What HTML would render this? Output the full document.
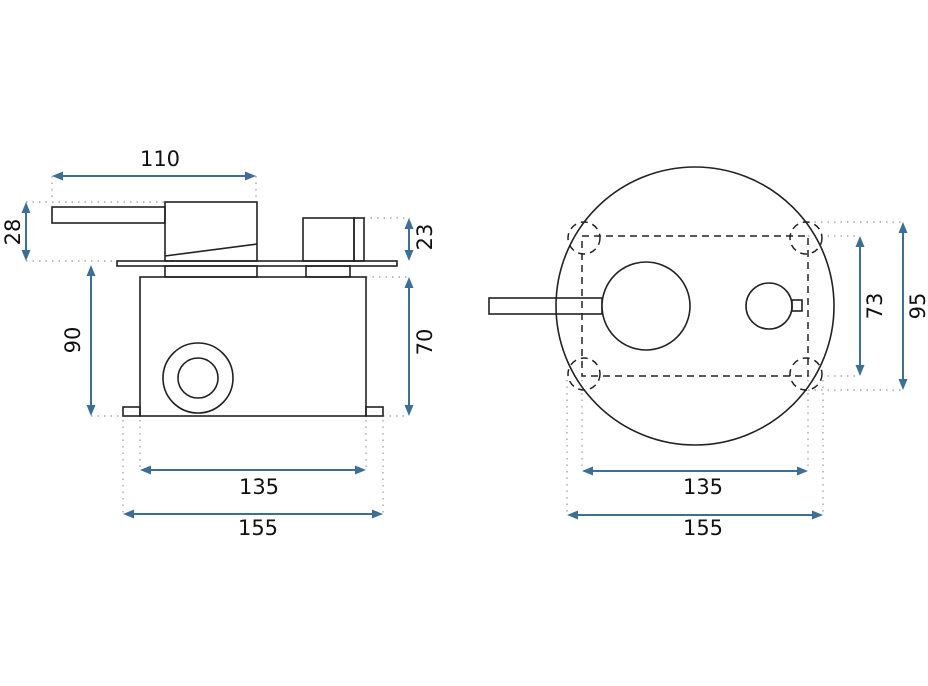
<!DOCTYPE html>
<html><head><style>body{margin:0;background:#fff}svg{display:block}text{font-family:"DejaVu Sans","Liberation Sans",sans-serif;font-size:21px;fill:#111}</style></head>
<body>
<svg width="928" height="686" viewBox="0 0 928 686" xmlns="http://www.w3.org/2000/svg">
<g stroke="#999" stroke-width="1.2" stroke-dasharray="1.5,5" fill="none">
<path d="M52,176V202M256,176V200M26,202H165M26,261H117M364,218H410M366,277H410M91,416H123M383,416H409M123,420V515M140,420V470M366,420V470M383,420V515"/>
<path d="M808,222H903M808,236H860M808,376H860M808,390H903M567,380V515M582,380V470M808,380V470M823,380V515"/>
</g>
<g stroke="#3d6e96" stroke-width="2" fill="none">
<path d="M60,176H248M26,210V253M91,273V408M409,226V253M409,285V408M148,470H358M131,514H375"/>
<path d="M860,244V368M903,230V382M590,471H800M575,515H815"/>
</g>
<g fill="#3d6e96">
<path d="M52,176l11,-4.5v9z M256,176l-11,-4.5v9z"/>
<path d="M140,470l11,-4.5v9z M366,470l-11,-4.5v9z"/>
<path d="M123,514l11,-4.5v9z M383,514l-11,-4.5v9z"/>
<path d="M582,471l11,-4.5v9z M808,471l-11,-4.5v9z"/>
<path d="M567,515l11,-4.5v9z M823,515l-11,-4.5v9z"/>
<path d="M26,202l-4.5,11h9z M26,261l-4.5,-11h9z"/>
<path d="M91,265l-4.5,11h9z M91,416l-4.5,-11h9z"/>
<path d="M409,218l-4.5,11h9z M409,261l-4.5,-11h9z"/>
<path d="M409,277l-4.5,11h9z M409,416l-4.5,-11h9z"/>
<path d="M860,236l-4.5,11h9z M860,376l-4.5,-11h9z"/>
<path d="M903,222l-4.5,11h9z M903,390l-4.5,-11h9z"/>
</g>
<g stroke="#222" stroke-width="1.6" fill="none">
<rect x="52" y="207" width="113" height="16"/>
<rect x="165" y="202" width="92" height="59"/>
<path d="M165,256L257,244"/>
<rect x="117" y="261" width="280" height="5"/>
<rect x="303" y="218" width="51" height="43"/>
<rect x="354" y="218" width="10" height="43"/>
<rect x="165" y="266" width="92" height="11"/>
<rect x="306" y="266" width="44" height="11"/>
<rect x="140" y="277" width="226" height="139"/>
<rect x="123" y="407" width="17" height="9"/>
<rect x="366" y="407" width="17" height="9"/>
<circle cx="198" cy="378" r="35"/>
<circle cx="198" cy="378" r="20"/>
<circle cx="695" cy="306" r="139"/>
<rect x="489" y="298" width="113" height="16"/>
<circle cx="646" cy="306" r="44" fill="#fff"/>
<circle cx="769" cy="306" r="23"/>
<rect x="792" y="300" width="10" height="11"/>
</g>
<g stroke="#222" stroke-width="1.5" fill="none" stroke-dasharray="7,5">
<rect x="582" y="236" width="226" height="140"/>
<circle cx="584" cy="238" r="16"/>
<circle cx="806" cy="238" r="16"/>
<circle cx="584" cy="374" r="16"/>
<circle cx="806" cy="374" r="16"/>
</g>
<text x="160" y="166" text-anchor="middle">110</text>
<text transform="translate(22,232) rotate(-90)" text-anchor="middle" dy="-2">28</text>
<text transform="translate(86,340) rotate(-90)" text-anchor="middle" dy="-6">90</text>
<text transform="translate(424,237) rotate(-90)" text-anchor="middle" dy="8">23</text>
<text transform="translate(424,342) rotate(-90)" text-anchor="middle" dy="8">70</text>
<text x="259" y="494" text-anchor="middle">135</text>
<text x="258" y="535" text-anchor="middle">155</text>
<text transform="translate(874,306) rotate(-90)" text-anchor="middle" dy="8">73</text>
<text transform="translate(917,306) rotate(-90)" text-anchor="middle" dy="8">95</text>
<text x="703" y="494" text-anchor="middle">135</text>
<text x="703" y="535" text-anchor="middle">155</text>
</svg>
</body></html>
